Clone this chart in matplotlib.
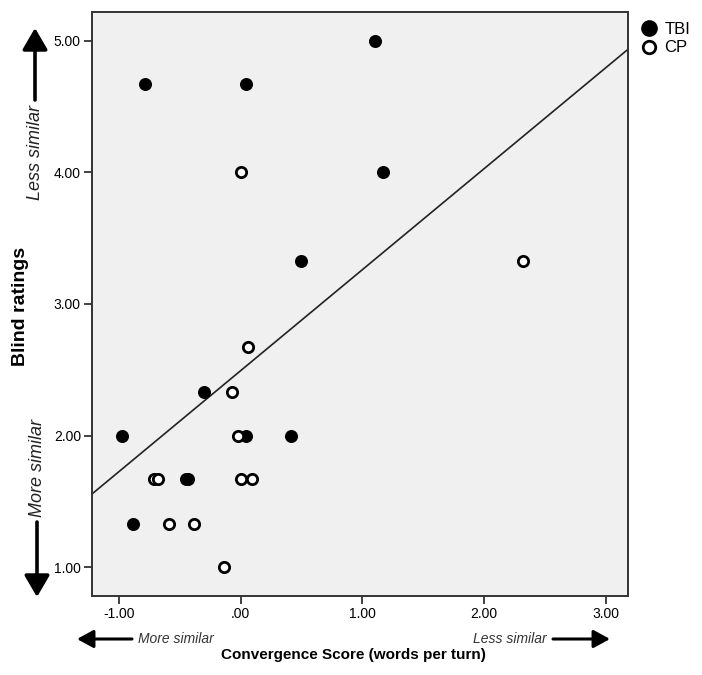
import numpy as np
import matplotlib.pyplot as plt
from matplotlib.lines import Line2D

plt.rcParams['font.family'] = ['Liberation Sans', 'DejaVu Sans']

# convergence score (x) and blind rating (y)
tbi_x = [-0.785, 0.045, 1.105, 1.17, 0.497, -0.297, -0.971, 0.045, 0.417, -0.45, -0.43, -0.881]
tbi_y = [4.67, 4.67, 5.00, 4.00, 3.33, 2.33, 2.00, 2.00, 2.00, 1.67, 1.67, 1.33]
cp_x = [0.0, 2.32, 0.062, -0.067, -0.023, -0.708, -0.68, 0.002, 0.094, -0.585, -0.382, -0.138]
cp_y = [4.00, 3.33, 2.67, 2.33, 2.00, 1.67, 1.67, 1.67, 1.67, 1.33, 1.33, 1.00]

xticks = [-1, 0, 1, 2, 3]
xticklabels = ['-1.00', '.00', '1.00', '2.00', '3.00']
yticks = [1, 2, 3, 4, 5]
yticklabels = ['1.00', '2.00', '3.00', '4.00', '5.00']

W, H = 702, 675
fig = plt.figure(figsize=(W / 100, H / 100), dpi=100)
ax = fig.add_axes([92 / W, 1 - 596 / H, (628 - 92) / W, (596 - 12) / H])
ax.set_facecolor('#f0f0f0')

# fit line over all points
all_x = np.array(tbi_x + cp_x)
all_y = np.array(tbi_y + cp_y)
slope, icpt = np.polyfit(all_x, all_y, 1)
lx = np.array([-1.22, 3.18])
ax.plot(lx, icpt + slope * lx, color='#222222', lw=1.2, zorder=1)

ax.scatter(tbi_x, tbi_y, s=70, c='black', edgecolors='black', linewidths=1, zorder=3)
ax.scatter(cp_x, cp_y, s=55, c='white', edgecolors='black', linewidths=2, zorder=3)

ax.set_xlim(-1.22, 3.18)
ax.set_ylim(0.78, 5.22)
ax.set_xticks(xticks)
ax.set_xticklabels(xticklabels)
ax.set_yticks(yticks)
ax.set_yticklabels(yticklabels)
ax.tick_params(direction='out', length=6, width=1.3, labelsize=10, pad=2, color='#333333')
for sp in ax.spines.values():
    sp.set_color('#333333')
    sp.set_linewidth(1.4)


def fx(px):
    return px / W


def fy(py):
    return 1 - py / H


fig.text(fx(21), fy(306), 'Blind ratings', rotation=90, fontsize=14, fontweight='bold',
         ha='center', va='center')
fig.text(fx(353), fy(655), 'Convergence Score (words per turn)', fontsize=11,
         fontweight='bold', ha='center', va='center')

# direction hints
arr = dict(arrowstyle='-|>,head_length=0.6,head_width=0.35', lw=2.6, mutation_scale=22,
           color='black', shrinkA=0, shrinkB=0)
fig.text(fx(35), fy(153), 'Less similar', rotation=90, fontsize=13, style='italic',
         ha='center', va='center', color='#222222')
ax.annotate('', xy=(fx(35), fy(28)), xytext=(fx(35), fy(100)), xycoords='figure fraction',
            textcoords='figure fraction', arrowprops=arr, annotation_clip=False)
fig.text(fx(37), fy(468), 'More similar', rotation=90, fontsize=13, style='italic',
         ha='center', va='center', color='#222222')
ax.annotate('', xy=(fx(37), fy(597)), xytext=(fx(37), fy(522)), xycoords='figure fraction',
            textcoords='figure fraction', arrowprops=arr, annotation_clip=False)

arr2 = dict(arrowstyle='-|>,head_length=0.55,head_width=0.3', lw=2.2, mutation_scale=18,
            color='black', shrinkA=0, shrinkB=0)
fig.text(fx(138), fy(639), 'More similar', fontsize=10, style='italic',
         ha='left', va='center', color='#333333')
ax.annotate('', xy=(fx(77), fy(639)), xytext=(fx(132), fy(639)), xycoords='figure fraction',
            textcoords='figure fraction', arrowprops=arr2, annotation_clip=False)
fig.text(fx(547), fy(639), 'Less similar', fontsize=10, style='italic',
         ha='right', va='center', color='#333333')
ax.annotate('', xy=(fx(610), fy(639)), xytext=(fx(553), fy(639)), xycoords='figure fraction',
            textcoords='figure fraction', arrowprops=arr2, annotation_clip=False)

handles = [
    Line2D([], [], marker='o', ls='none', markersize=11, color='black', label='TBI'),
    Line2D([], [], marker='o', ls='none', markersize=9, markerfacecolor='white',
           markeredgecolor='black', markeredgewidth=2, label='CP'),
]
fig.legend(handles=handles, loc='upper left', bbox_to_anchor=(fx(641), fy(22)),
           frameon=False, fontsize=12, handlelength=1.0, handletextpad=0.4,
           labelspacing=0.2, borderpad=0, borderaxespad=0)

fig.savefig('out.png', dpi=100)
